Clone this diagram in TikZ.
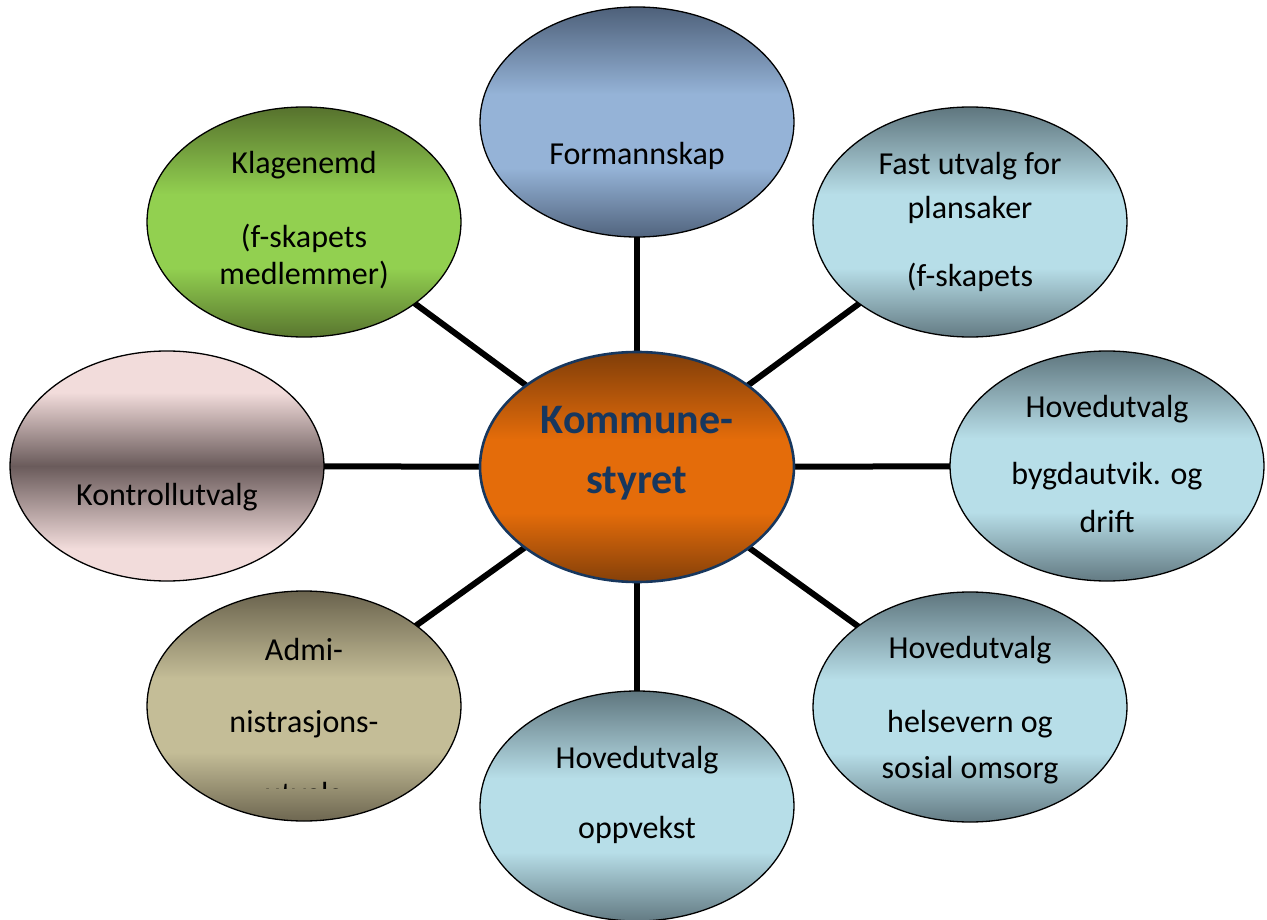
\documentclass[tikz,border=0pt]{standalone}
\usepackage{fontspec}
\setmainfont{Carlito}
\usetikzlibrary{shapes.geometric,backgrounds}
\definecolor{navy}{HTML}{17375E}
\definecolor{slateD}{HTML}{3F4F66}
\definecolor{slateL}{HTML}{95B3D7}
\definecolor{greenD}{HTML}{4A5E26}
\definecolor{greenL}{HTML}{92D050}
\definecolor{aquaD}{HTML}{4D6068}
\definecolor{aquaL}{HTML}{B7DEE8}
\definecolor{pinkL}{HTML}{F2DCDB}
\definecolor{pinkD}{HTML}{6A5B5B}
\definecolor{khakiD}{HTML}{57503E}
\definecolor{khakiL}{HTML}{C4BD97}
\definecolor{orangeD}{HTML}{6B3409}
\definecolor{orangeL}{HTML}{E46C0A}
\colorlet{ovD}{black}
\colorlet{ovL}{white}
\pgfdeclareverticalshading[ovD,ovL]{band}{100bp}{color(0bp)=(ovD); color(21bp)=(ovD); color(40bp)=(ovL); color(56bp)=(ovL); color(79bp)=(ovD); color(100bp)=(ovD)}
\pgfdeclareverticalshading[ovD,ovL]{narrowband}{100bp}{color(0bp)=(ovD); color(32bp)=(ovD); color(50bp)=(ovL); color(66bp)=(ovD); color(100bp)=(ovD)}
\tikzset{
  x=1pt, y=-1pt,
  oval/.style={ellipse, draw=black, line width=1.3pt, minimum width=314pt, minimum height=230pt, inner sep=0pt},
  dark mid/.style 2 args={/utils/exec={\colorlet{ovD}{#1}\colorlet{ovL}{#2}}, shading=band},
  light mid/.style 2 args={/utils/exec={\colorlet{ovD}{#1}\colorlet{ovL}{#2}}, shading=narrowband},
  lbl/.style={anchor=base, inner sep=0pt, font=\fontsize{32}{38}\selectfont, text=black},
  clbl/.style={anchor=base, inner sep=0pt, font=\fontsize{42}{50}\selectfont\bfseries, text=navy},
  spoke/.style={line width=6pt, black}
}
\begin{document}
\begin{tikzpicture}
\useasboundingbox (0,0) rectangle (1267,920);
% ellipses
\node[oval, dark mid={slateD}{slateL}] (F) at (637,122) {};
\node[oval, dark mid={greenD}{greenL}] (K) at (304,222) {};
\node[oval, dark mid={aquaD}{aquaL}] (P) at (970,222) {};
\node[oval, light mid={pinkL}{pinkD}] (T) at (167,466) {};
\node[oval, dark mid={aquaD}{aquaL}] (B) at (1107,466) {};
\node[oval, dark mid={khakiD}{khakiL}] (A) at (304,706) {};
\node[oval, dark mid={aquaD}{aquaL}] (H) at (970,707) {};
\node[oval, dark mid={aquaD}{aquaL}] (O) at (637,806) {};
\node[oval, draw=navy, line width=2.6pt, dark mid={orangeD}{orangeL}] (C) at (637,467) {};
% spokes
\begin{scope}[on background layer]
\foreach \n in {F,K,P,T,B,A,H,O}
  \draw[spoke] (C.center) -- (\n.center);
\end{scope}
% labels
\node[lbl] (f1) at (637,165) {Formannskap};
\node[lbl] (k1) at (304,174) {Klagenemd};
\node[lbl] (k2) at (304,248) {(f-skapets};
\node[lbl] (k3) at (304,284) {medlemmer)};
\node[lbl] (p1) at (970,175) {Fast utvalg for};
\node[lbl] (p2) at (970,219) {plansaker};
\node[lbl] (p3) at (970,287) {(f-skapets};
\node[lbl] (t1) at (167,505) {Kontrollutvalg};
\node[lbl] (b1) at (1107,417) {Hovedutvalg};
\node[lbl] (b2) at (1107,484) {bygdautvik. og};
\node[lbl] (b3) at (1107,532) {drift};
\node[lbl] (a1) at (304,660) {Admi-};
\node[lbl] (a2) at (304,732) {nistrasjons-};
\begin{scope}
\clip (147,760) rectangle (462,788);
\node[lbl] (a3) at (304,804) {utvalg};
\end{scope}
\node[lbl] (h1) at (970,658) {Hovedutvalg};
\node[lbl] (h2) at (970,732) {helsevern og};
\node[lbl] (h3) at (970,778) {sosial omsorg};
\node[lbl] (o1) at (637,768) {Hovedutvalg};
\node[lbl] (o2) at (637,838) {oppvekst};
\node[clbl] (c1) at (637,433) {Kommune-};
\node[clbl] (c2) at (637,493) {styret};
\end{tikzpicture}
\end{document}
